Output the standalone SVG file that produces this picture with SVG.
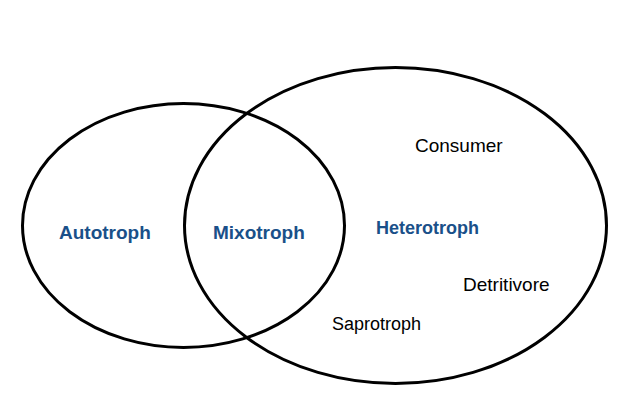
<svg xmlns="http://www.w3.org/2000/svg" width="634" height="408" viewBox="0 0 634 408">
<style>
.set{fill:none;stroke:#000;stroke-width:3}
.lab{font-family:"Liberation Sans",Arial,sans-serif;font-weight:bold;fill:#1a5089;font-size:19px}
.item{font-family:"Liberation Sans",Arial,sans-serif;fill:#000;font-size:19px}
</style>
<rect width="634" height="408" fill="#fff"/>
<g id="autotroph">
<ellipse class="set" cx="183.5" cy="225.5" rx="161" ry="122"/>
<text class="lab" x="59" y="239">Autotroph</text>
</g>
<g id="heterotroph">
<ellipse class="set" cx="395.5" cy="225.5" rx="211" ry="158"/>
<text class="lab" x="376" y="234" style="font-size:18px">Heterotroph</text>
</g>
<g id="mixotroph">
<text class="lab" x="213" y="239">Mixotroph</text>
</g>
<g id="consumer"><text class="item" x="415" y="152">Consumer</text></g>
<g id="detritivore"><text class="item" x="463" y="291">Detritivore</text></g>
<g id="saprotroph"><text class="item" x="332" y="330" style="font-size:18px">Saprotroph</text></g>
<g id="connectors"></g>
</svg>
